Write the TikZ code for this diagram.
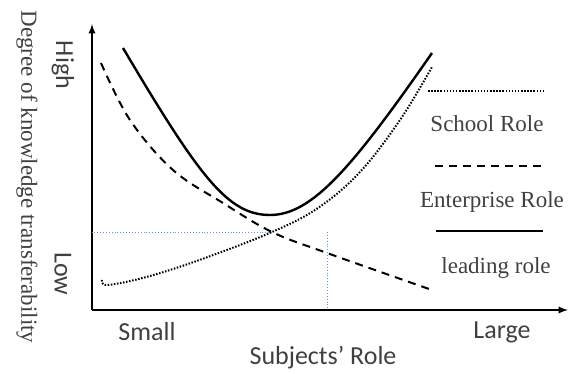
\documentclass[tikz,border=0pt]{standalone}
\usepackage{fontspec}
\setmainfont{Liberation Serif}
\newfontfamily\calib{Carlito}
\usepackage{xcolor}
\usepackage{tikz}
\usetikzlibrary{calc}
\usetikzlibrary{shapes,arrows,positioning}
\definecolor{guide}{RGB}{91,155,213}
\definecolor{txt}{RGB}{64,64,64}
\begin{document}
\begin{tikzpicture}[x=1pt,y=-1pt,
	sanslbl/.style={text=txt,font=\calib\fontsize{26}{28}\selectfont,inner sep=0pt},
	seriflbl/.style={text=txt,font=\fontsize{23}{25}\selectfont,inner sep=0pt},
	school/.style={line width=2pt,dash pattern=on 1.5pt off 1.6pt},
	enterprise/.style={line width=2pt,dash pattern=on 8pt off 6pt},
	leading/.style={line width=2.4pt}]
	\useasboundingbox (0,0) rectangle (571,374);
	\coordinate (origin) at (92,310);
	\coordinate (cross) at (272,232);
	\coordinate (mark) at (327,253);
	\draw[line width=2.2pt,-latex] (origin)--(92,24);
	\draw[line width=2.2pt,-latex] (origin)--(568,310);
	\draw[guide,line width=0.9pt,dotted] (cross)--(origin|-cross);
	\draw[guide,line width=0.9pt,dotted] (mark|-cross)--(mark|-origin);
	\draw[leading] (123,48) .. controls (200,178) and (228,215) .. (270,215) .. controls (312,215) and (352,168) .. (432,53);
	\draw[enterprise] plot[smooth,tension=0.6] coordinates {(101,63) (130,120) (173,170) (223,203) (cross) (mark) (432,290)};
	\draw[school] plot[smooth,tension=0.6] coordinates {(102,280) (108,285) (150,276) (205,258) (cross) (318,208) (360,172) (400,120) (432,67)};
	\node[sanslbl,rotate=-90] (high) at (63,65) {High};
	\node[sanslbl,rotate=-90] (low) at (63,274) {Low};
	\node[seriflbl,rotate=-90] (ylabel) at (27,177) {Degree of knowledge transferability};
	\node[sanslbl] (small) at (147,332) {Small};
	\node[sanslbl] (large) at (502,332) {Large};
	\node[sanslbl] (xlabel) at (323,358) {Subjects’ Role};
	\draw[school] (428,91)--(543,91);
	\node[seriflbl] (schoollbl) at (487,124) {School Role};
	\draw[enterprise] (435,166)--(543,166);
	\node[seriflbl] (entlbl) at (492,202) {Enterprise Role};
	\draw[leading] (436,231)--(543,231);
	\node[seriflbl] (leadlbl) at (496,268) {leading role};
\end{tikzpicture}
\end{document}
